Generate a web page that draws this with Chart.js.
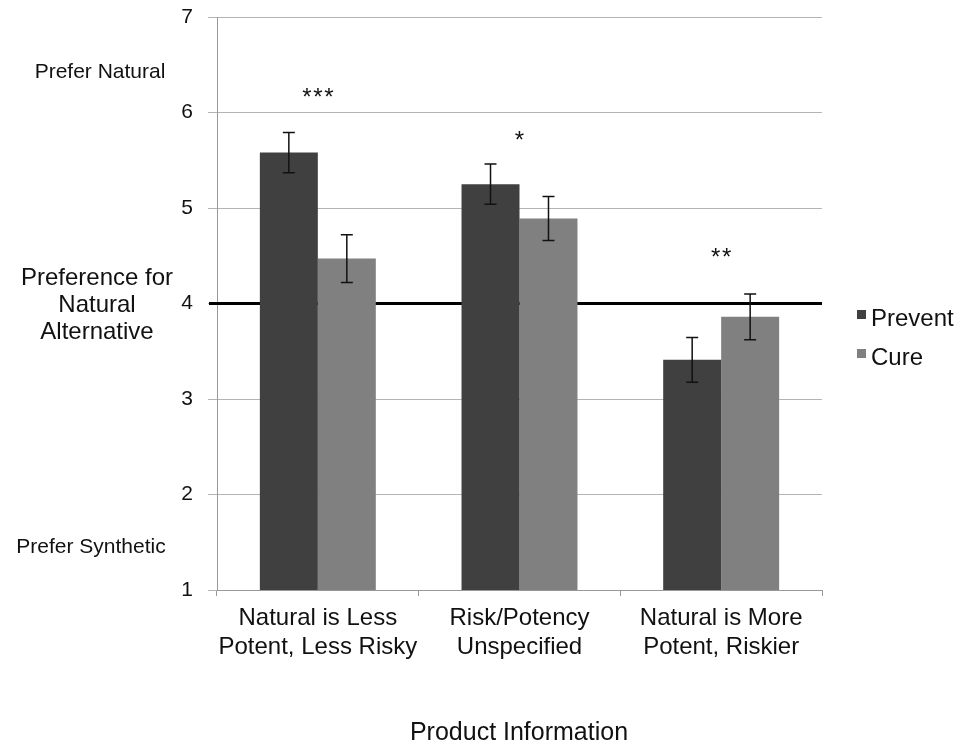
<!DOCTYPE html>
<html>
<head>
<meta charset="utf-8">
<script src="https://cdn.jsdelivr.net/npm/chart.js@4"></script>
<style>
  html, body { margin: 0; padding: 0; background: #fff; }
  #wrap { width: 961px; height: 748px; position: relative; }
</style>
</head>
<body>
<div id="wrap"><canvas id="c" width="961" height="748"></canvas></div>
<script>
// Product-information conditions on the x axis
const categories = [
  ['Natural is Less', 'Potent, Less Risky'],
  ['Risk/Potency', 'Unspecified'],
  ['Natural is More', 'Potent, Riskier']
];
// Mean preference for the natural alternative (1–7 scale)
const preventValues = [5.58, 5.25, 3.41];
const cureValues    = [4.47, 4.89, 3.86];
// Standard errors
const preventErrors = [0.21, 0.21, 0.235];
const cureErrors    = [0.25, 0.23, 0.24];
// Significance markers per condition and the level they sit at
const sigLabels = ['***', '*', '**'];
const sigLevels = [6.22, 5.77, 4.55];
// Y ticks and the neutral midpoint
const yTicks = [1, 2, 3, 4, 5, 6, 7];
const neutralPoint = 4;

const FONT = '"Liberation Sans", Arial, sans-serif';
const PREVENT_COLOR = '#404040';
const CURE_COLOR = '#808080';

const overlay = {
  id: 'overlay',
  beforeDatasetsDraw(chart) {
    const { ctx, chartArea, scales } = chart;
    const y = scales.y.getPixelForValue(neutralPoint);
    ctx.save();
    ctx.strokeStyle = '#000';
    ctx.lineWidth = 3;
    ctx.beginPath();
    ctx.moveTo(chartArea.left - 8, y);
    ctx.lineTo(chartArea.right, y);
    ctx.stroke();
    ctx.restore();
  },
  afterDatasetsDraw(chart) {
    const { ctx, scales } = chart;
    const errs = [preventErrors, cureErrors];
    ctx.save();
    ctx.strokeStyle = '#111';
    ctx.lineWidth = 1.5;
    chart.data.datasets.forEach((ds, di) => {
      const meta = chart.getDatasetMeta(di);
      meta.data.forEach((bar, i) => {
        const v = ds.data[i];
        const e = errs[di][i];
        const x = bar.x;
        const yt = scales.y.getPixelForValue(v + e);
        const yb = scales.y.getPixelForValue(v - e);
        ctx.beginPath();
        ctx.moveTo(x, yt); ctx.lineTo(x, yb);
        ctx.moveTo(x - 6, yt); ctx.lineTo(x + 6, yt);
        ctx.moveTo(x - 6, yb); ctx.lineTo(x + 6, yb);
        ctx.stroke();
      });
    });
    ctx.restore();
  },
  afterDraw(chart) {
    const { ctx, scales } = chart;
    ctx.save();
    ctx.fillStyle = '#111';
    ctx.textAlign = 'center';

    // significance markers (the star glyph sits ~0.57em above the baseline)
    const starSize = 24;
    ctx.font = starSize + 'px ' + FONT;
    ctx.textBaseline = 'alphabetic';
    sigLabels.forEach((s, i) => {
      const cx = scales.x.getPixelForValue(i);
      const cy = scales.y.getPixelForValue(sigLevels[i]) + 0.57 * starSize;
      const step = 11;
      const x0 = cx - (s.length - 1) * step / 2;
      for (let k = 0; k < s.length; k++) ctx.fillText('*', x0 + k * step, cy);
    });

    ctx.textBaseline = 'middle';
    // left-side annotations
    ctx.font = '21px ' + FONT;
    ctx.fillText('Prefer Natural', 100, 72);
    ctx.fillText('Prefer Synthetic', 91, 547);
    ctx.font = '24px ' + FONT;
    ctx.fillText('Preference for', 97, 278);
    ctx.fillText('Natural', 97, 305);
    ctx.fillText('Alternative', 97, 332);

    // x axis title
    ctx.font = '25px ' + FONT;
    ctx.fillText('Product Information', 519, 733);

    // legend
    ctx.font = '24px ' + FONT;
    ctx.textAlign = 'left';
    const items = [['Prevent', PREVENT_COLOR, 318], ['Cure', CURE_COLOR, 357]];
    items.forEach(([label, color, yy]) => {
      ctx.fillStyle = color;
      ctx.fillRect(857, yy - 8, 9, 9);
      ctx.fillStyle = '#111';
      ctx.fillText(label, 871, yy + 1);
    });
    ctx.restore();
  }
};

new Chart(document.getElementById('c'), {
  type: 'bar',
  data: {
    labels: categories,
    datasets: [
      { label: 'Prevent', data: preventValues, backgroundColor: PREVENT_COLOR,
        barPercentage: 1.0, categoryPercentage: 0.575 },
      { label: 'Cure', data: cureValues, backgroundColor: CURE_COLOR,
        barPercentage: 1.0, categoryPercentage: 0.575 }
    ]
  },
  options: {
    responsive: false,
    animation: false,
    devicePixelRatio: 1,
    layout: { padding: { left: 0, right: 139, top: 17, bottom: 0 } },
    plugins: { legend: { display: false }, tooltip: { enabled: false } },
    scales: {
      x: {
        grid: { drawOnChartArea: false, drawTicks: true, tickLength: 6, color: '#999', offset: true },
        border: { display: true, color: '#999', width: 1 },
        ticks: { color: '#111', font: { family: FONT, size: 24 }, padding: 8,
                 maxRotation: 0, minRotation: 0, autoSkip: false },
        afterFit(scale) {
          scale.height = 158;
          scale.paddingLeft = 0; scale.paddingRight = 0;
        }
      },
      y: {
        min: 1, max: 7,
        afterBuildTicks(scale) { scale.ticks = yTicks.map(v => ({ value: v })); },
        grid: { color: '#b4b4b4', lineWidth: 1, tickLength: 9, drawTicks: true },
        border: { display: true, color: '#999', width: 1 },
        ticks: { color: '#111', font: { family: FONT, size: 21 }, padding: 15 },
        afterFit(scale) {
          scale.width = 217;
          scale.paddingTop = 0; scale.paddingBottom = 0;
        }
      }
    }
  },
  plugins: [overlay]
});
</script>
</body>
</html>
